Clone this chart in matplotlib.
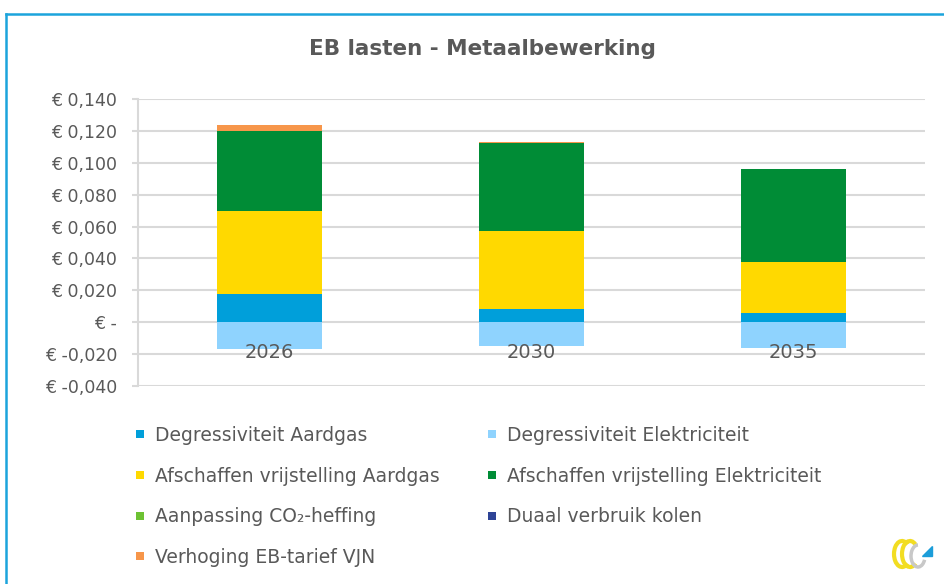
import matplotlib.pyplot as plt
from matplotlib.patches import Polygon, Arc
from matplotlib.lines import Line2D

plt.rcParams['font.family'] = ['DejaVu Sans']

years = ['2026', '2030', '2035']
degr_aardgas = [0.0180, 0.0082, 0.0057]
degr_elek = [-0.0170, -0.0150, -0.0160]
afsch_aardgas = [0.0520, 0.0488, 0.0320]
afsch_elek = [0.0500, 0.0551, 0.0583]
co2_heffing = [0.0, 0.0, 0.0]
duaal_kolen = [0.0, 0.0, 0.0]
verhoging_vjn = [0.0038, 0.0008, 0.0]

series = [
    ('Degressiviteit Aardgas', degr_aardgas, '#009FDA'),
    ('Degressiviteit Elektriciteit', degr_elek, '#8FD3FE'),
    ('Afschaffen vrijstelling Aardgas', afsch_aardgas, '#FFD900'),
    ('Afschaffen vrijstelling Elektriciteit', afsch_elek, '#008C36'),
    ('Aanpassing CO\u2082-heffing', co2_heffing, '#6DC233'),
    ('Duaal verbruik kolen', duaal_kolen, '#2E4496'),
    ('Verhoging EB-tarief VJN', verhoging_vjn, '#F7964A'),
]

grey = '#595959'

fig = plt.figure(figsize=(9.44, 5.84), dpi=100)
ax = fig.add_axes([138 / 944, 1 - 386 / 584, 787 / 944, 287 / 584])

x = list(range(len(years)))
pos_base = [0.0] * len(years)
neg_base = [0.0] * len(years)
for name, vals, color in series:
    bottoms = []
    for i, v in enumerate(vals):
        if v >= 0:
            bottoms.append(pos_base[i])
            pos_base[i] += v
        else:
            bottoms.append(neg_base[i])
            neg_base[i] += v
    ax.bar(x, vals, width=0.4, bottom=bottoms, color=color, linewidth=0, zorder=3)

ax.set_xlim(-0.5, len(years) - 0.5)
ax.set_ylim(-0.04, 0.14)
ticks = [-0.04 + 0.02 * k for k in range(10)]
ax.set_yticks(ticks)


def euro(v):
    if abs(v) < 1e-9:
        return '€ -'
    return '€ ' + f'{v:.3f}'.replace('.', ',')


ax.set_yticklabels([euro(t) for t in ticks])
ax.tick_params(axis='y', colors='#d9d9d9', labelcolor=grey, labelsize=12.5, length=4, width=1.5, pad=11)
ax.set_xticks([])
ax.grid(axis='y', color='#d9d9d9', linewidth=1.5, zorder=0)
for s in ['top', 'right', 'bottom']:
    ax.spines[s].set_visible(False)
ax.spines['left'].set_color('#d9d9d9')
ax.spines['left'].set_linewidth(1.5)

for i, yr in enumerate(years):
    ax.annotate(yr, (i, 0), xytext=(0, -15), textcoords='offset points',
                ha='center', va='top', fontsize=14, color=grey, zorder=5)

fig.text(482 / 944, 1 - 49 / 584, 'EB lasten - Metaalbewerking', ha='center', va='center',
         fontsize=15.5, fontweight='bold', color=grey)

# legend in two columns
handles = [Line2D([], [], marker='s', linestyle='none', markersize=5.5,
                  markerfacecolor=c, markeredgewidth=0) for _, _, c in series]
labels = [n for n, _, _ in series]
col1 = [0, 2, 4, 6]
col2 = [1, 3, 5]
for idx, xpos in [(col1, 134 / 944), (col2, 486 / 944)]:
    leg = fig.legend([handles[k] for k in idx], [labels[k] for k in idx],
                     loc='upper left', bbox_to_anchor=(xpos, 1 - 426 / 584),
                     frameon=False, fontsize=13.5, labelspacing=1.15,
                     handlelength=0.6, handletextpad=0.5, borderpad=0, borderaxespad=0)
    for t in leg.get_texts():
        t.set_color(grey)

# blue frame
fig.add_artist(Line2D([6 / 944, 6 / 944], [0, 1 - 14 / 584], color='#1CA4DC', linewidth=1.8))
fig.add_artist(Line2D([6 / 944, 1], [1 - 14 / 584, 1 - 14 / 584], color='#1CA4DC', linewidth=1.8))

# small logo
logo = fig.add_axes([888 / 944, 1 - 570 / 584, 48 / 944, 36 / 584])
logo.set_xlim(0, 48)
logo.set_ylim(0, 36)
logo.axis('off')
logo.add_patch(Arc((14, 16), 16, 26, theta1=60, theta2=300, color='#F2DD22', linewidth=3))
logo.add_patch(Arc((22, 16), 16, 26, theta1=60, theta2=300, color='#F2DD22', linewidth=3))
logo.add_patch(Arc((30, 14), 14, 22, theta1=90, theta2=330, color='#C8C8C8', linewidth=2.5))
logo.add_patch(Polygon([[34, 14], [44, 14], [44, 24]], closed=True, color='#1C9DD9'))

fig.savefig('out.png', dpi=100)
